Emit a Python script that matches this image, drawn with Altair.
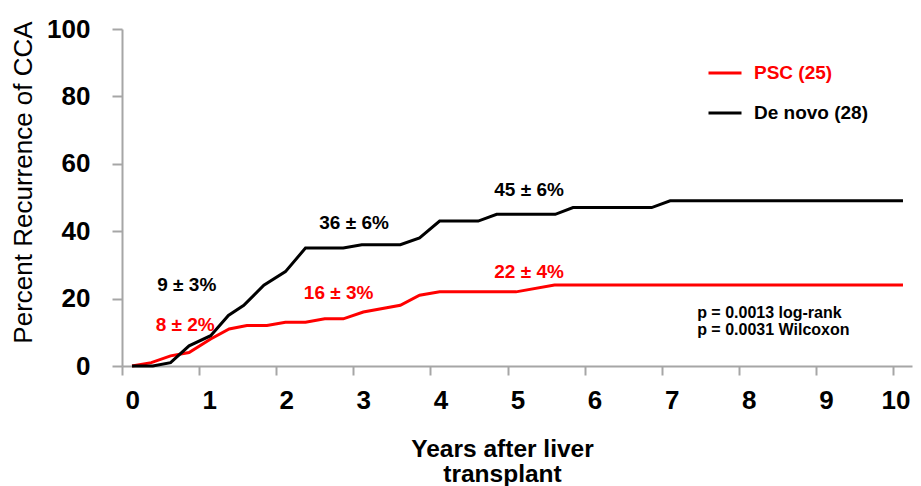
import altair as alt
import pandas as pd

# ---- data ----
psc_years = [0, 0.25, 0.5, 0.74, 1.02, 1.26, 1.49, 1.75, 1.99, 2.25, 2.5, 2.74, 3.0, 3.48, 3.73, 3.99, 4.98, 5.48, 10.0]
psc_pct   = [0, 1,    3,   4,    8,    11,   12,   12,   13,   13,   14,  14,   16,  18,   21,   22,   22,   24,   24]

dn_years = [0, 0.27, 0.5, 0.74, 1.02, 1.25, 1.45, 1.71, 1.99, 2.25, 2.74, 2.98, 3.48, 3.73, 3.99, 4.49, 4.73, 5.49, 5.72, 6.74, 6.98, 10.0]
dn_pct   = [0, 0,    1,   6,    9,    15,   18,   24,   28,   35,   35,   36,   36,   38,   43,   43,   45,   45,   47,   47,   49,   49]

series_names = ["PSC (25)", "De novo (28)"]
series_colors = ["#ff0000", "#000000"]

ann_text  = ["9 ± 3%", "8 ± 2%", "16 ± 3%", "36 ± 6%", "45 ± 6%", "22 ± 4%"]
ann_x     = [0.71, 0.69, 2.68, 2.88, 5.15, 5.15]
ann_y     = [24.0, 12.2, 21.7, 42.4, 52.2, 27.9]
ann_color = ["#000000", "#ff0000", "#ff0000", "#000000", "#000000", "#ff0000"]

p_text = ["p = 0.0013 log-rank", "p = 0.0031 Wilcoxon"]
p_x = [7.33, 7.33]
p_y = [15.7, 10.7]

x_ticks = list(range(0, 11))
y_ticks = [0, 20, 40, 60, 80, 100]
x_domain = [-0.13, 10.117]
y_domain = [0, 100]

# ---- tables ----
curves = pd.concat([
    pd.DataFrame({"years": psc_years, "pct": psc_pct, "group": series_names[0], "order": range(len(psc_years))}),
    pd.DataFrame({"years": dn_years, "pct": dn_pct, "group": series_names[1], "order": range(len(dn_years))}),
])
ann = pd.DataFrame({"x": ann_x, "y": ann_y, "t": ann_text, "c": ann_color})
pv = pd.DataFrame({"x": p_x, "y": p_y, "t": p_text})

FONT = "Liberation Sans"
GRAY = "#a6a6a6"

xscale = alt.Scale(domain=x_domain, nice=False, zero=False)
yscale = alt.Scale(domain=y_domain, nice=False)

xaxis = alt.Axis(values=x_ticks, format="d", title=["Years after liver", "transplant"],
                 grid=False, domainColor=GRAY, domainWidth=2, tickColor=GRAY, tickWidth=2,
                 tickSize=9, tickOffset=-10, labelOffset=10, labelPadding=12,
                 labelFlush=11, labelFlushOffset=7,
                 labelFont=FONT, labelFontSize=26, labelFontWeight="bold", labelColor="#000",
                 titleFont=FONT, titleFontSize=24.5, titleFontWeight="bold", titleColor="#000",
                 titleX=380, titleY=90, titleAlign="center", titleBaseline="alphabetic",
                 titleLineHeight=25)
yaxis = alt.Axis(values=y_ticks, title="Percent Recurrence of CCA",
                 grid=False, domainColor=GRAY, domainWidth=2, tickColor=GRAY, tickWidth=2,
                 tickSize=10, labelPadding=22,
                 labelFont=FONT, labelFontSize=26, labelFontWeight="bold", labelColor="#000",
                 titleFont=FONT, titleFontSize=26, titleFontWeight="normal", titleColor="#000",
                 titleX=-91, titleY=153, titleAlign="center", titleBaseline="alphabetic",
                 titleAngle=270)

lines = alt.Chart(curves).mark_line(strokeWidth=3, interpolate="linear").encode(
    x=alt.X("years:Q", scale=xscale, axis=xaxis),
    y=alt.Y("pct:Q", scale=yscale, axis=yaxis),
    color=alt.Color("group:N",
                    scale=alt.Scale(domain=series_names, range=series_colors),
                    sort=series_names,
                    legend=alt.Legend(title=None, orient="none", legendX=585, legendY=26,
                                      symbolType="stroke", symbolSize=1089, symbolStrokeWidth=3,
                                      labelFont=FONT, labelFontSize=19, labelFontWeight="bold",
                                      labelColor={"expr": "datum.value == 'PSC (25)' ? '#ff0000' : '#000000'"},
                                      labelOffset=11, rowPadding=12)),
    order="order:Q",
)

ann_layer = alt.Chart(ann).mark_text(font=FONT, fontSize=19, fontWeight="bold",
                                     align="center", baseline="middle").encode(
    x=alt.X("x:Q", scale=xscale, axis=xaxis),
    y=alt.Y("y:Q", scale=yscale, axis=yaxis),
    text="t:N",
    color=alt.Color("c:N", scale=None),
)

p_layer = alt.Chart(pv).mark_text(font=FONT, fontSize=16, fontWeight="bold",
                                  align="left", baseline="middle", color="#000").encode(
    x=alt.X("x:Q", scale=xscale, axis=xaxis),
    y=alt.Y("y:Q", scale=yscale, axis=yaxis),
    text="t:N",
)

chart = alt.layer(lines, ann_layer, p_layer).properties(
    width=790, height=337,
    autosize=alt.AutoSizeParams(type="none"),
    padding={"left": 114, "top": 21, "right": 1, "bottom": 120},
).configure(
    background="#ffffff",
    view=alt.ViewConfig(stroke="transparent"),
)

chart.save("out.html", embed_options={"renderer": "svg", "actions": False})
